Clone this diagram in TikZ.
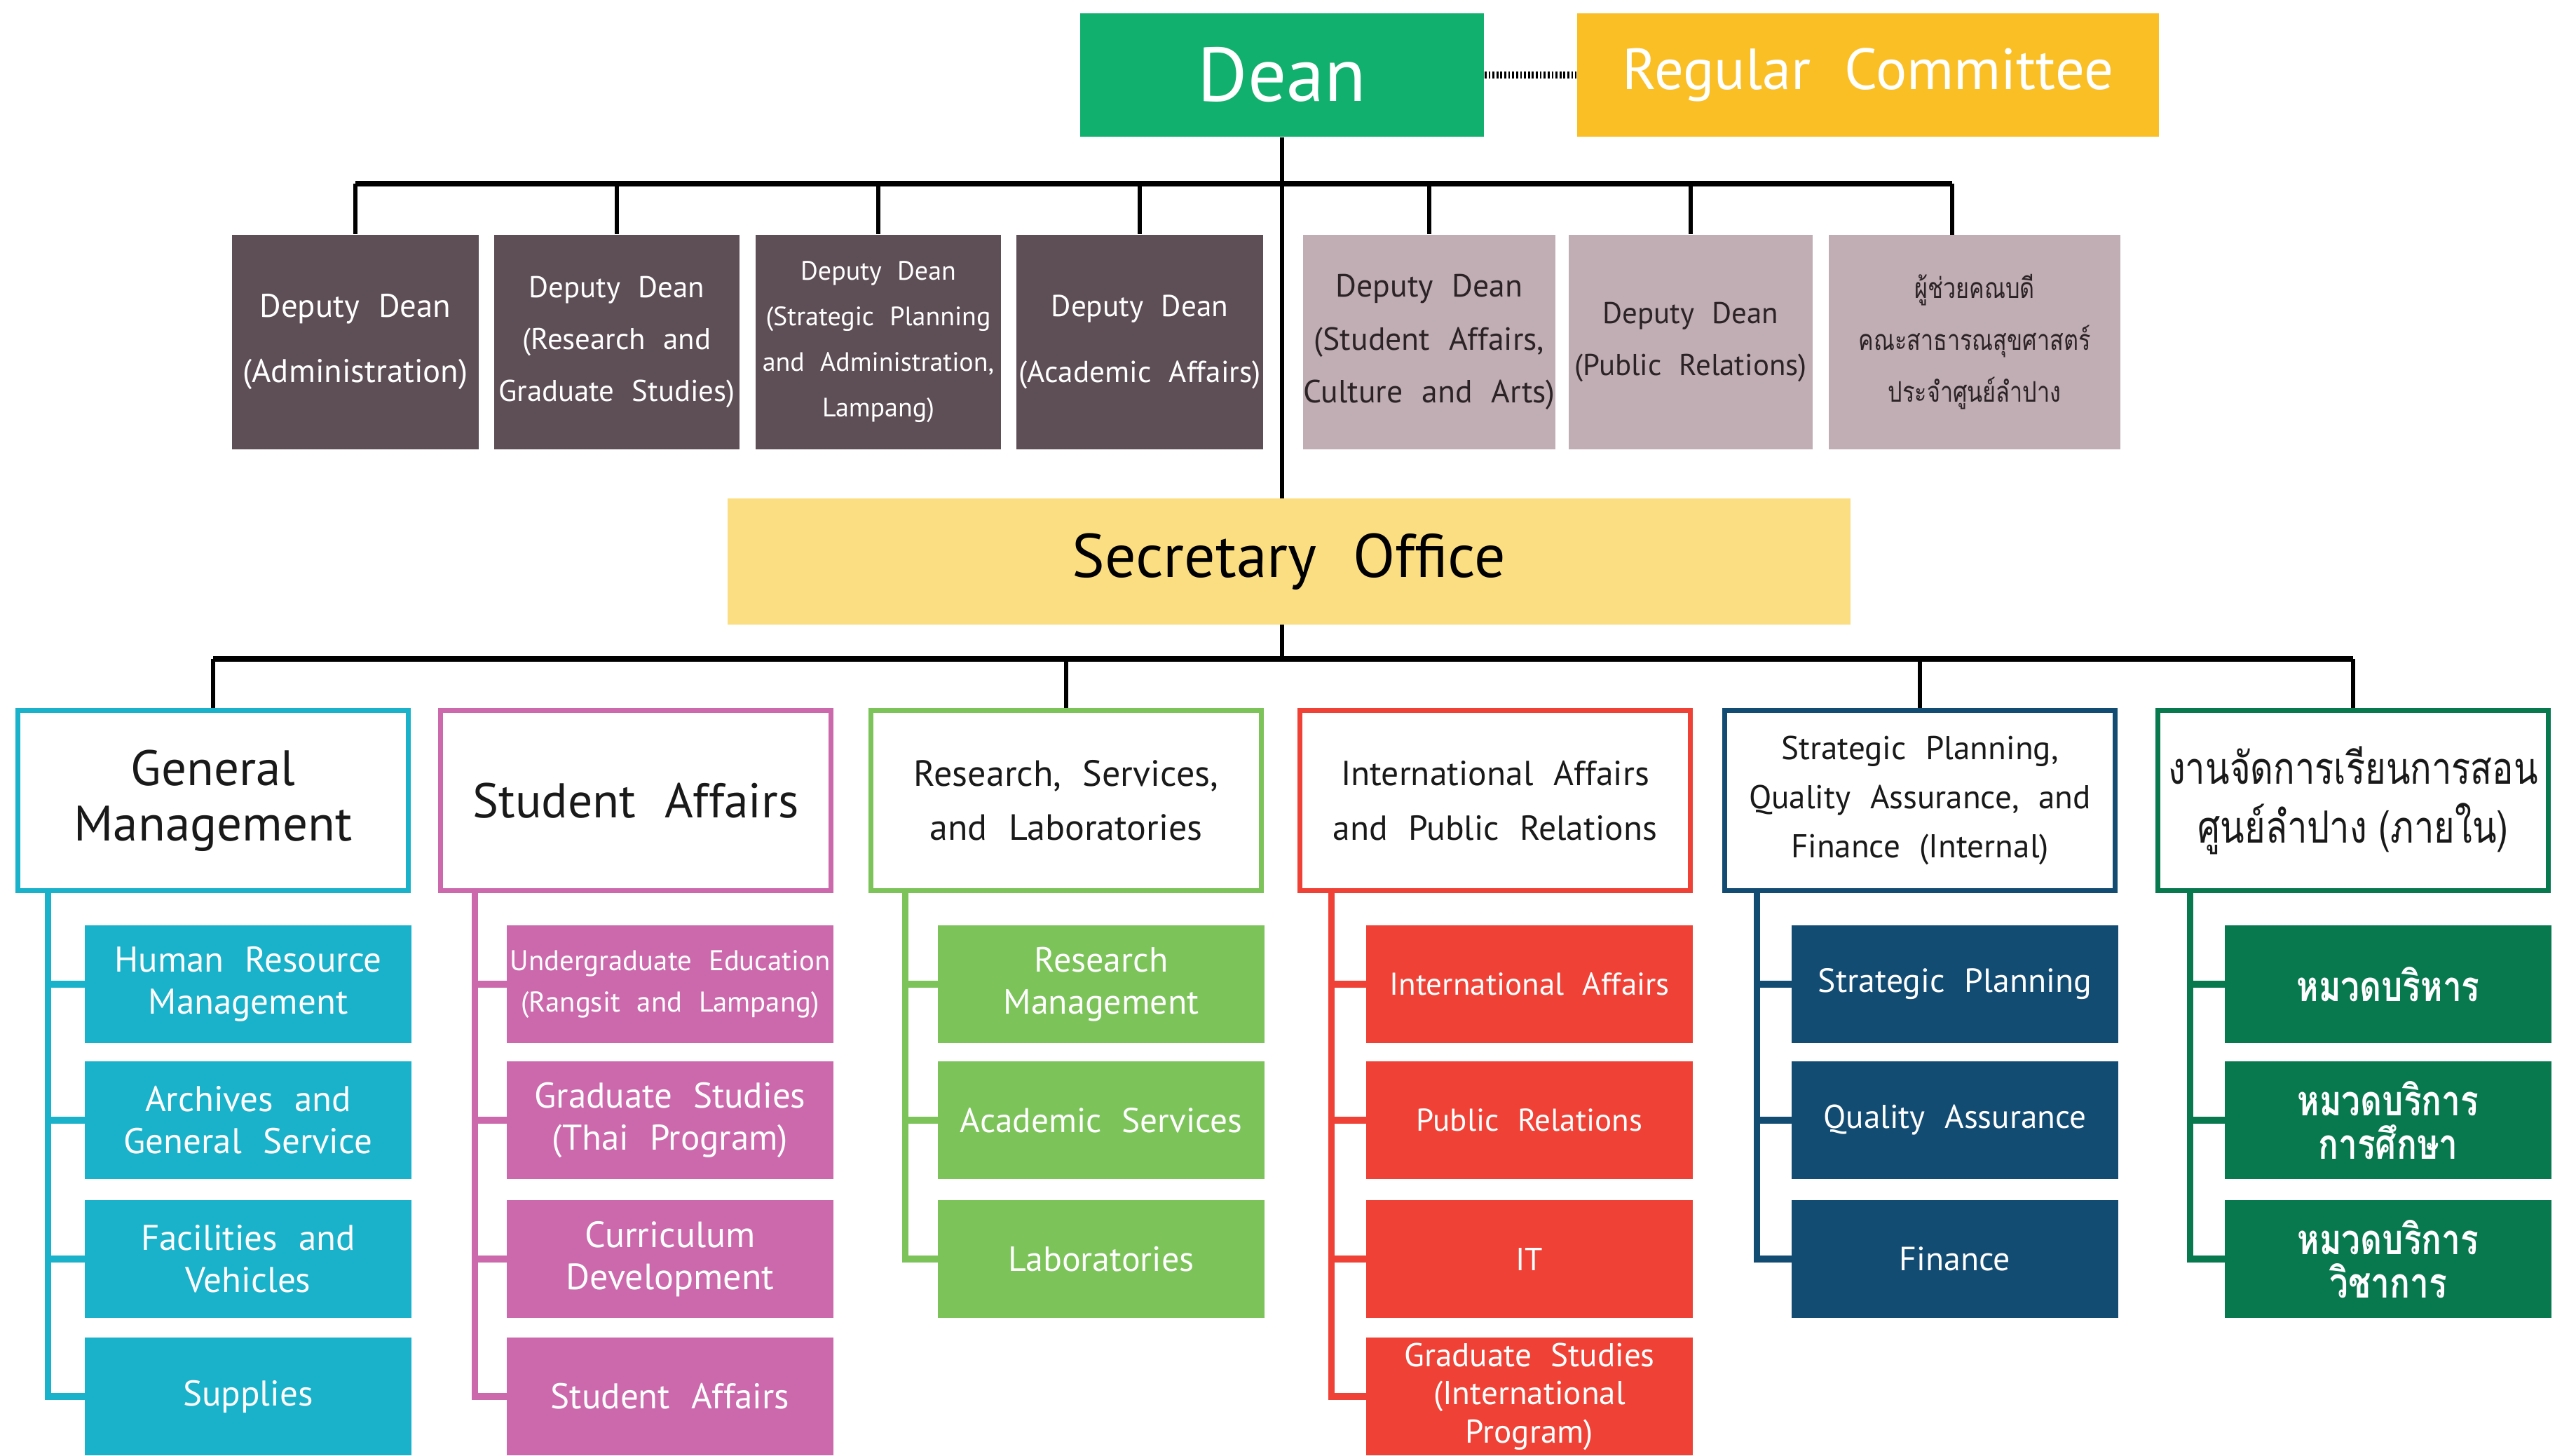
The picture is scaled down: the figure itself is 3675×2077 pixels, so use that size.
\documentclass[tikz,border=0pt]{standalone}
\usepackage{fontspec}
\setmainfont{PT Sans}[WordSpace=2.2]
\newfontfamily\thai[Script=Thai,FakeStretch=0.8]{Loma}
\definecolor{deanG}{HTML}{12B06E}
\definecolor{comY}{HTML}{FBBF26}
\definecolor{ddk}{HTML}{5E4E56}
\definecolor{dlt}{HTML}{C1AEB4}
\definecolor{dtx}{HTML}{2B2326}
\definecolor{secY}{HTML}{FCDE82}
\definecolor{gmC}{HTML}{1AB2CA}
\definecolor{saC}{HTML}{CC69AD}
\definecolor{rsC}{HTML}{7CC35A}
\definecolor{iaC}{HTML}{EF4135}
\definecolor{spC}{HTML}{134C73}
\definecolor{thC}{HTML}{08784F}
\newcommand{\fs}[2]{\fontsize{#1}{#2}\selectfont}
\begin{document}
\begin{tikzpicture}[x=0.01cm,y=-0.01cm,
  box/.style={rectangle,inner sep=0pt,align=center},
  deanbox/.style={box,fill=deanG,text=white,minimum width=5.76cm,minimum height=1.76cm,font=\fs{31}{34}},
  commbox/.style={box,fill=comY,text=white,minimum width=8.30cm,minimum height=1.76cm,font=\fs{23.5}{26}},
  ddbox/.style={box,minimum height=3.06cm,minimum width=3.50cm},
  dark/.style={ddbox,fill=ddk,text=white},
  light/.style={ddbox,fill=dlt,text=dtx},
  secbox/.style={box,fill=secY,text=black,minimum width=16.02cm,minimum height=1.79cm,font=\fs{25}{28}},
  hdr/.style={box,draw=#1,line width=2pt,fill=white,text=black!90,minimum width=5.56cm,minimum height=2.57cm},
  kid/.style={box,fill=#1,text=white,minimum width=4.65cm,minimum height=1.68cm,font=\fs{14.5}{17}},
  conn/.style={line width=1.8pt,black},
  bus/.style={line width=2.4pt,black},
  spine/.style={line width=2.6pt,draw=#1}
]
\useasboundingbox (0,0) rectangle (3675,2077);

% top
\node[deanbox] (dean) at (1829,107) {Dean};
\node[commbox] (comm) at (2665,107) {Regular Committee};
\draw[line width=2.8pt,dash pattern=on 0.8pt off 0.8pt] (dean.east) -- (comm.west);

% deputy deans
\node[dark,minimum width=3.52cm,font=\fs{13.3}{26.5}] (d1) at (507,488) {Deputy Dean\\(Administration)};
\node[dark,font=\fs{12.2}{21}] (d2) at (880,488) {Deputy Dean\\(Research and\\Graduate Studies)};
\node[dark,font=\fs{10.8}{18.5}] (d3) at (1253,488) {Deputy Dean\\(Strategic Planning\\and Administration,\\Lampang)};
\node[dark,minimum width=3.51cm,font=\fs{12.3}{26.5}] (d4) at (1626,488) {Deputy Dean\\(Academic Affairs)};
\node[light,minimum width=3.48cm,font=\fs{13}{21.5}] (d5) at (2039,488) {Deputy Dean\\(Student Affairs,\\Culture and Arts)};
\node[light,minimum width=3.48cm,font=\fs{12.2}{21}] (d6) at (2412,488) {Deputy Dean\\(Public Relations)};
\node[light,minimum width=4.15cm,font=\thai\fs{11.5}{21}] (d7) at (2817,488) {ผู้ช่วยคณบดี\\คณะสาธารณสุขศาสตร์\\ประจำศูนย์ลำปาง};

\coordinate (busA) at (0,262);
\coordinate (d7t) at (2785,335);
\draw[bus] (d1.north |- busA) -- (d7t |- busA);
\foreach \n in {d1,d2,d3,d4,d5,d6} \draw[conn] (\n.north |- busA) -- (\n.north);
\draw[conn] (d7t |- busA) -- (d7t);

% secretary
\node[secbox] (sec) at (1839,801) {Secretary Office};
\draw[conn] (dean.south) -- (dean.south |- sec.north);
\coordinate (busB) at (0,940);
\draw[conn] (dean.south |- sec.south) -- (dean.south |- busB);

% headers
\node[hdr=gmC,font=\fs{20.2}{22.5}] (gm) at (304,1142) {General\\Management};
\node[hdr=saC,font=\fs{19.8}{22}] (sa) at (907,1142) {Student Affairs};
\node[hdr=rsC,font=\fs{14.8}{22}] (rs) at (1521,1142) {Research, Services,\\and Laboratories};
\node[hdr=iaC,font=\fs{14.1}{22}] (ia) at (2133,1142) {International Affairs\\and Public Relations};
\node[hdr=spC,font=\fs{13.4}{20}] (sp) at (2739,1142) {Strategic Planning,\\Quality Assurance, and\\Finance (Internal)};
\node[hdr=thC,font=\thai\fs{18}{24}] (th) at (3357,1142) {งานจัดการเรียนการสอน\\ศูนย์ลำปาง (ภายใน)};

\draw[bus] (gm.north |- busB) -- (th.north |- busB);
\foreach \n in {gm,rs,sp,th} \draw[conn] (\n.north |- busB) -- (\n.north);

% children: General Management
\node[kid=gmC] (gm1) at (354,1404) {Human Resource\\Management};
\node[kid=gmC] (gm2) at (354,1598) {Archives and\\General Service};
\node[kid=gmC] (gm3) at (354,1796) {Facilities and\\Vehicles};
\node[kid=gmC] (gm4) at (354,1992) {Supplies};
% Student Affairs
\node[kid=saC,font=\fs{11.6}{17}] (sa1) at (956,1404) {Undergraduate Education\\(Rangsit and Lampang)};
\node[kid=saC] (sa2) at (956,1598) {Graduate Studies\\(Thai Program)};
\node[kid=saC,font=\fs{14.8}{17}] (sa3) at (956,1796) {Curriculum\\Development};
\node[kid=saC] (sa4) at (956,1992) {Student Affairs};
% Research
\node[kid=rsC,font=\fs{14.2}{17}] (rs1) at (1571,1404) {Research\\Management};
\node[kid=rsC,font=\fs{14}{17}] (rs2) at (1571,1598) {Academic Services};
\node[kid=rsC,font=\fs{14.2}{17}] (rs3) at (1571,1796) {Laboratories};
% International
\node[kid=iaC,font=\fs{12.8}{17}] (ia1) at (2182,1404) {International Affairs};
\node[kid=iaC,font=\fs{12.8}{17}] (ia2) at (2182,1598) {Public Relations};
\node[kid=iaC,font=\fs{13}{17}] (ia3) at (2182,1796) {IT};
\node[kid=iaC,font=\fs{13.4}{15.5}] (ia4) at (2182,1992) {Graduate Studies\\(International\\Program)};
% Strategic
\node[kid=spC,font=\fs{13.6}{17}] (sp1) at (2789,1404) {Strategic Planning};
\node[kid=spC,font=\fs{13.4}{17}] (sp2) at (2789,1598) {Quality Assurance};
\node[kid=spC,font=\fs{13.6}{17}] (sp3) at (2789,1796) {Finance};
% Thai
\node[kid=thC,font=\thai\bfseries\fs{17}{17.5}] (th1) at (3407,1404) {หมวดบริหาร};
\node[kid=thC,font=\thai\bfseries\fs{17}{17.5}] (th2) at (3407,1598) {หมวดบริการ\\การศึกษา};
\node[kid=thC,font=\thai\bfseries\fs{17}{17.5}] (th3) at (3407,1796) {หมวดบริการ\\วิชาการ};

% spines
\coordinate (gms) at ([xshift=0.46cm]gm.south west);
\draw[spine=gmC] (gms) |- (gm4.west);
\foreach \k in {1,2,3} \draw[spine=gmC] (gms |- gm\k.west) -- (gm\k.west);
\coordinate (sas) at ([xshift=0.52cm]sa.south west);
\draw[spine=saC] (sas) |- (sa4.west);
\foreach \k in {1,2,3} \draw[spine=saC] (sas |- sa\k.west) -- (sa\k.west);
\coordinate (rss) at ([xshift=0.52cm]rs.south west);
\draw[spine=rsC] (rss) |- (rs3.west);
\foreach \k in {1,2} \draw[spine=rsC] (rss |- rs\k.west) -- (rs\k.west);
\coordinate (ias) at ([xshift=0.48cm]ia.south west);
\draw[spine=iaC] (ias) |- (ia4.west);
\foreach \k in {1,2,3} \draw[spine=iaC] (ias |- ia\k.west) -- (ia\k.west);
\coordinate (sps) at ([xshift=0.49cm]sp.south west);
\draw[spine=spC] (sps) |- (sp3.west);
\foreach \k in {1,2} \draw[spine=spC] (sps |- sp\k.west) -- (sp\k.west);
\coordinate (ths) at ([xshift=0.49cm]th.south west);
\draw[spine=thC] (ths) |- (th3.west);
\foreach \k in {1,2} \draw[spine=thC] (ths |- th\k.west) -- (th\k.west);
\end{tikzpicture}
\end{document}
